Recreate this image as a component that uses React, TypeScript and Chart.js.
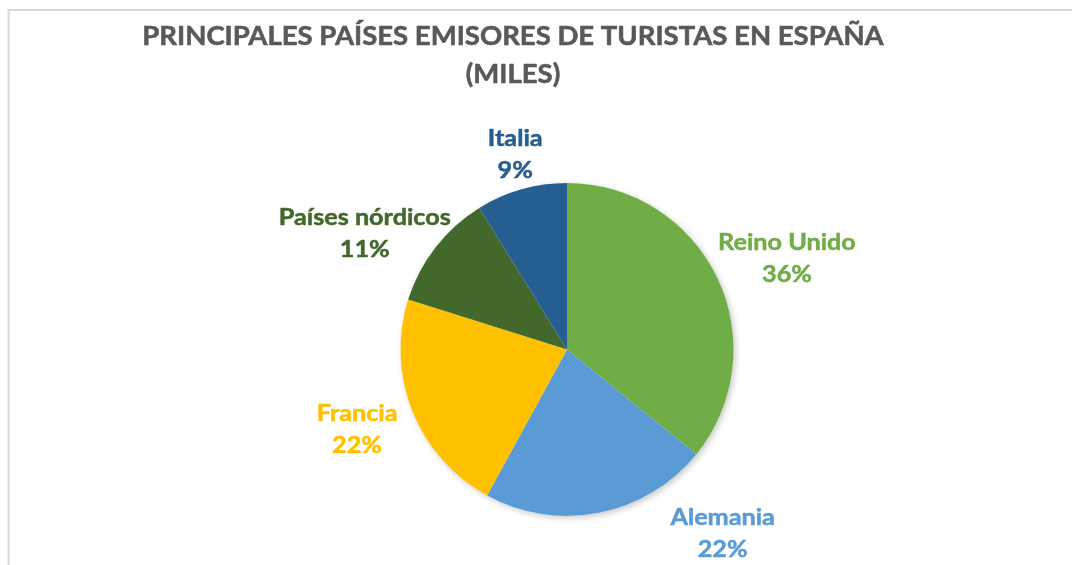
import React, { useEffect, useRef } from "react";
import { Chart, registerables } from "chart.js";

Chart.register(...registerables);

// ---- data ----
const categories = ["Reino Unido", "Alemania", "Francia", "Países nórdicos", "Italia"];
const visitors = [13600, 8400, 8300, 4300, 3350]; // miles de turistas (estimados)
const sliceColors = ["#70AD47", "#5B9BD5", "#FFC000", "#43682B", "#255E91"];
const titleLines = ["PRINCIPALES PAÍSES EMISORES DE TURISTAS EN ESPAÑA", "(MILES)"];

// ---- label layout (angle nudge in degrees, distance as multiple of radius) ----
const labelAngleNudge = [3, -29, 1, -8, 1];
const labelDistance = [1.43, 1.45, 1.35, 1.4, 1.21];

const FONT = "Lato, 'Open Sans', sans-serif";

function heavyText(ctx: CanvasRenderingContext2D, text: string, x: number, y: number, sx: number, weight: number) {
  ctx.save();
  ctx.translate(x, y);
  ctx.scale(sx, 1);
  ctx.fillText(text, 0, 0);
  ctx.lineWidth = weight;
  ctx.lineJoin = "round";
  ctx.strokeStyle = ctx.fillStyle as string;
  ctx.strokeText(text, 0, 0);
  ctx.restore();
}

const decorPlugin = {
  id: "decor",
  beforeDraw(chart: any) {
    const { ctx, width, height } = chart;
    ctx.save();
    ctx.fillStyle = "#ffffff";
    ctx.fillRect(0, 0, width, height);
    ctx.strokeStyle = "#d9d9d9";
    ctx.lineWidth = 2;
    ctx.beginPath();
    ctx.moveTo(8.5, height);
    ctx.lineTo(8.5, 10);
    ctx.lineTo(width, 10);
    ctx.stroke();

    ctx.fillStyle = "#595959";
    ctx.font = `bold 27.5px ${FONT}`;
    ctx.textAlign = "center";
    ctx.textBaseline = "alphabetic";
    heavyText(ctx, titleLines[0], 513, 45, 1, 0.6);
    heavyText(ctx, titleLines[1], 513, 83, 1, 0.6);
    ctx.restore();
  },
  beforeDatasetsDraw(chart: any) {
    const meta = chart.getDatasetMeta(0);
    const arc = meta.data[0];
    if (!arc) return;
    const { x, y, outerRadius } = arc.getProps(["x", "y", "outerRadius"], true);
    const ctx = chart.ctx;
    ctx.save();
    ctx.shadowColor = "rgba(0,0,0,0.22)";
    ctx.shadowBlur = 6;
    ctx.shadowOffsetX = 2;
    ctx.shadowOffsetY = 2;
    ctx.fillStyle = "#ffffff";
    ctx.beginPath();
    ctx.arc(x, y, outerRadius, 0, Math.PI * 2);
    ctx.fill();
    ctx.restore();
  },
  afterDatasetsDraw(chart: any) {
    const meta = chart.getDatasetMeta(0);
    const data = chart.data.datasets[0].data as number[];
    const total = data.reduce((a, b) => a + b, 0);
    const ctx = chart.ctx;
    ctx.save();
    ctx.font = `bold 22.5px ${FONT}`;
    ctx.textAlign = "center";
    ctx.textBaseline = "middle";
    meta.data.forEach((el: any, i: number) => {
      const { x, y, startAngle, endAngle, outerRadius } = el.getProps(
        ["x", "y", "startAngle", "endAngle", "outerRadius"],
        true
      );
      const mid = (startAngle + endAngle) / 2 + (labelAngleNudge[i] * Math.PI) / 180;
      const d = outerRadius * labelDistance[i];
      const lx = x + Math.cos(mid) * d;
      const ly = y + Math.sin(mid) * d;
      const pct = Math.round((data[i] / total) * 100) + "%";
      ctx.fillStyle = sliceColors[i];
      heavyText(ctx, categories[i], lx, ly - 16, 1.12, 0.5);
      heavyText(ctx, pct, lx, ly + 16, 1.12, 0.5);
    });
    ctx.restore();
  },
};

export default function App() {
  const canvasRef = useRef<HTMLCanvasElement | null>(null);

  useEffect(() => {
    const canvas = canvasRef.current;
    if (!canvas) return;
    const chart = new Chart(canvas, {
      type: "pie",
      data: {
        labels: categories,
        datasets: [
          {
            data: visitors,
            backgroundColor: sliceColors,
            borderWidth: 0,
          },
        ],
      },
      options: {
        responsive: false,
        animation: false,
        events: [],
        layout: {
          padding: { top: 183, bottom: 49, left: 367, right: 305 },
        },
        plugins: {
          legend: { display: false },
          title: { display: false },
          tooltip: { enabled: false },
        },
      },
      plugins: [decorPlugin],
    });
    return () => chart.destroy();
  }, []);

  return (
    <div style={{ position: "fixed", left: 0, top: 0, width: 1072, height: 565, background: "#fff" }}>
      <canvas ref={canvasRef} width={1072} height={565} style={{ display: "block" }} />
    </div>
  );
}
